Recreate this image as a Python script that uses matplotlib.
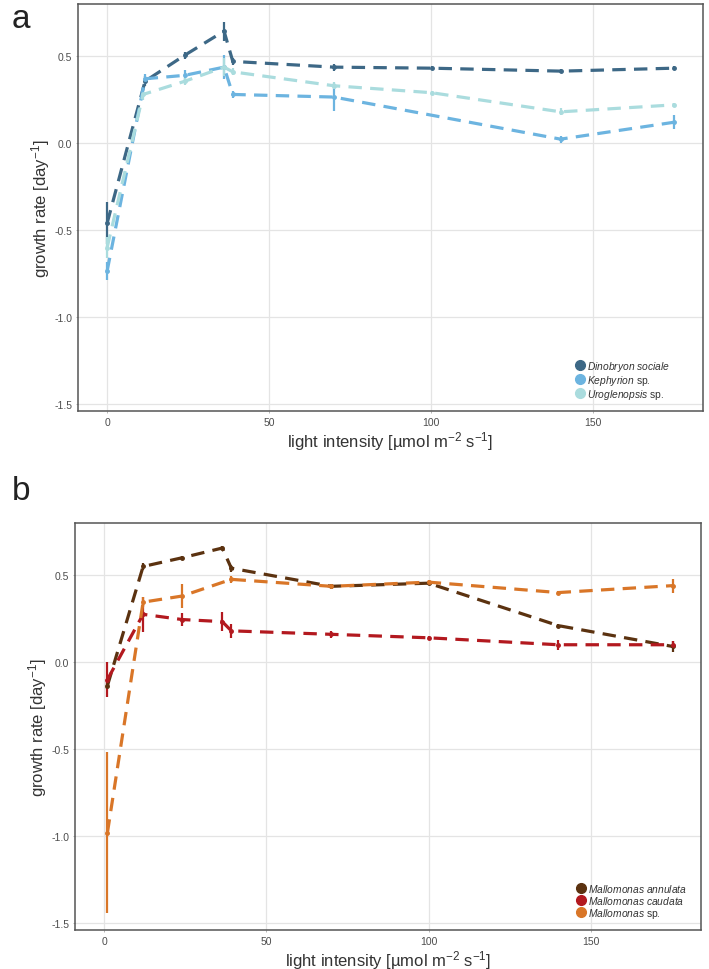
import matplotlib
matplotlib.use("Agg")
import matplotlib.pyplot as plt
from matplotlib.lines import Line2D

plt.rcParams['font.family'] = ['Liberation Sans', 'DejaVu Sans']
plt.rcParams['mathtext.fontset'] = 'custom'
plt.rcParams['mathtext.rm'] = 'Liberation Sans'
plt.rcParams['mathtext.it'] = 'Liberation Sans:italic'
plt.rcParams['axes.unicode_minus'] = False

# ---------------- data: panel a ----------------
dino_x = [0, 11.7, 24, 36.1, 38.8, 70, 100.2, 140.2, 175]
dino_y = [-0.46, 0.356, 0.506, 0.644, 0.47, 0.437, 0.431, 0.414, 0.431]
dino_e = [0.12, 0.03, 0.02, 0.055, 0.02, 0.02, 0.01, 0.01, 0.01]

keph_x = [0, 11.7, 24, 36.1, 38.8, 70, 140, 175]
keph_y = [-0.735, 0.37, 0.39, 0.437, 0.28, 0.265, 0.023, 0.12]
keph_e = [0.05, 0.03, 0.03, 0.07, 0.02, 0.08, 0.02, 0.04]

urog_x = [0, 11.1, 24, 36.1, 38.8, 70, 100.2, 140, 175]
urog_y = [-0.60, 0.28, 0.356, 0.437, 0.41, 0.33, 0.29, 0.18, 0.22]
urog_e = [0.06, 0.03, 0.02, 0.05, 0.02, 0.02, 0.01, 0.02, 0.01]

# ---------------- data: panel b ----------------
annu_x = [1, 12, 24, 36.4, 39.2, 70, 100, 140, 175.3]
annu_y = [-0.135, 0.55, 0.60, 0.656, 0.54, 0.436, 0.454, 0.21, 0.09]
annu_e = [0.02, 0.02, 0.01, 0.01, 0.02, 0.01, 0.01, 0.01, 0.03]

caud_x = [1, 12, 24, 36.4, 39.2, 70, 100, 140, 175.3]
caud_y = [-0.10, 0.275, 0.245, 0.233, 0.18, 0.16, 0.14, 0.10, 0.10]
caud_e = [0.10, 0.10, 0.04, 0.055, 0.04, 0.02, 0.01, 0.03, 0.02]

msp_x = [1, 12, 24, 39.2, 70, 100, 140, 175.3]
msp_y = [-0.98, 0.345, 0.38, 0.476, 0.436, 0.46, 0.40, 0.44]
msp_e = [0.465, 0.03, 0.07, 0.02, 0.01, 0.01, 0.01, 0.04]

series_a = [
    (dino_x, dino_y, dino_e, '#3d6886', r'$\mathit{Dinobryon\ sociale}$'),
    (keph_x, keph_y, keph_e, '#6cb4e0', r'$\mathit{Kephyrion}$ sp.'),
    (urog_x, urog_y, urog_e, '#aadcde', r'$\mathit{Uroglenopsis}$ sp.'),
]
series_b = [
    (annu_x, annu_y, annu_e, '#5b3210', r'$\mathit{Mallomonas\ annulata}$'),
    (caud_x, caud_y, caud_e, '#b3191f', r'$\mathit{Mallomonas\ caudata}$'),
    (msp_x, msp_y, msp_e, '#d97628', r'$\mathit{Mallomonas}$ sp.'),
]

xticks = [0, 50, 100, 150]
yticks = [-1.5, -1.0, -0.5, 0.0, 0.5]
yticklabels = ['-1.5', '-1.0', '-0.5', '0.0', '0.5']

W, H = 709, 970
fig = plt.figure(figsize=(W / 100, H / 100), dpi=100)


def make_panel(rect, series, letter, letter_y, leg_x):
    ax = fig.add_axes(rect)
    for x, y, e, c, lab in series:
        ax.errorbar(x, y, yerr=e, color=c, ecolor=c, elinewidth=1.6, capsize=0,
                    linestyle=(0, (4.2, 2.6)), linewidth=2.3, marker='o', markersize=2.5,
                    zorder=3)
    ax.set_xlim(-9, 184)
    ax.set_ylim(-1.54, 0.80)
    ax.set_xticks(xticks)
    ax.set_xticklabels([str(t) for t in xticks])
    ax.set_yticks(yticks)
    ax.set_yticklabels(yticklabels)
    ax.grid(True, color='#e4e4e4', linewidth=0.9, zorder=0)
    ax.set_axisbelow(True)
    for s in ax.spines.values():
        s.set_color('#555555')
        s.set_linewidth(1.1)
    ax.tick_params(axis='both', length=1.5, width=0.6, color='#aaaaaa',
                   labelsize=7.5, labelcolor='#4d4d4d', pad=2.5)
    ax.set_xlabel(r'light intensity [µmol m$^{-2}$ s$^{-1}$]', fontsize=12,
                  color='#333333', labelpad=1.5)
    ax.set_ylabel(r'growth rate [day$^{-1}$]', fontsize=12, color='#333333',
                  labelpad=1.5)
    handles = [Line2D([], [], linestyle='none', marker='o', markersize=7,
                      color=c, label=lab) for _, _, _, c, lab in series]
    leg = ax.legend(handles=handles, loc='lower left', frameon=False,
                    fontsize=7.4, handletextpad=-0.1, labelspacing=0.0,
                    handlelength=1.6, borderaxespad=0.0, borderpad=0.0,
                    bbox_to_anchor=(leg_x, 0.025))
    for t in leg.get_texts():
        t.set_color('#333333')
    fig.text(12 / W, letter_y, letter, fontsize=24, color='#222222',
             ha='left', va='center')
    return ax


make_panel([78 / W, (H - 412) / H, 625 / W, 407 / H], series_a, 'a', 1 - 20 / H, 0.79)
make_panel([75 / W, (H - 931) / H, 626 / W, 407 / H], series_b, 'b', 1 - 492 / H, 0.795)

fig.savefig('out.png', dpi=100)
